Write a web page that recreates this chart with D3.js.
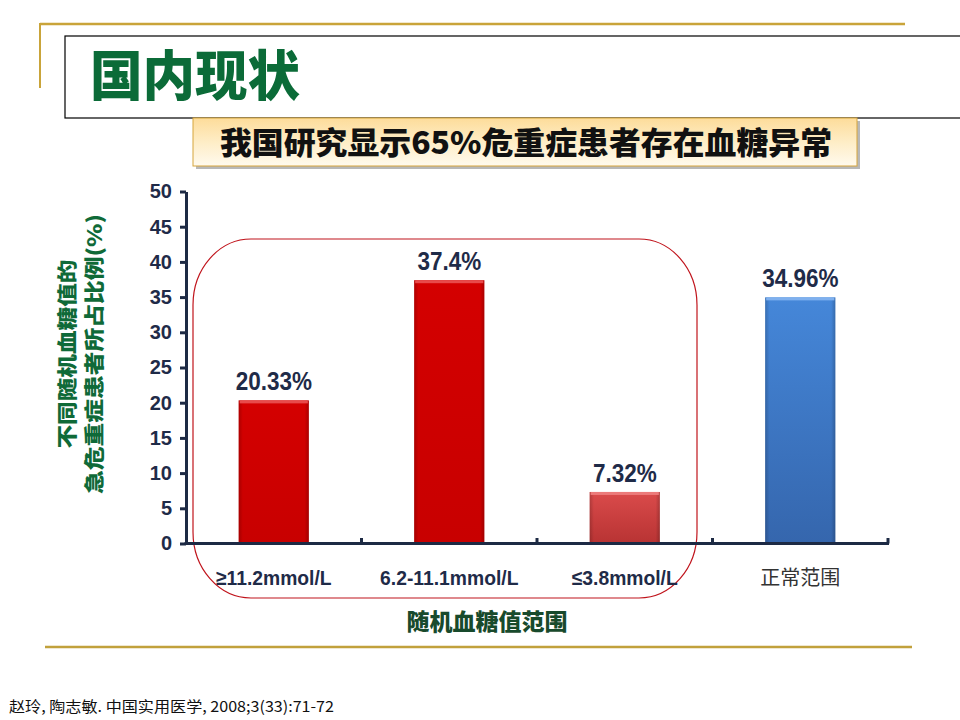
<!DOCTYPE html>
<html>
<head>
<meta charset="utf-8">
<script src="https://cdn.jsdelivr.net/npm/d3@7"></script>
<style>
  body { margin: 0; background: #fff; }
  text { font-family: "Liberation Sans", Arial, "Noto Sans CJK SC", sans-serif; }
  .cjk { font-family: "Noto Sans CJK SC", "Liberation Sans", sans-serif; }
</style>
</head>
<body>
<script>
const categories = ["≥11.2mmol/L", "6.2-11.1mmol/L", "≤3.8mmol/L", "正常范围"];
const values = [20.33, 37.4, 7.32, 34.96];
const valueLabels = ["20.33%", "37.4%", "7.32%", "34.96%"];
const yTicks = [0, 5, 10, 15, 20, 25, 30, 35, 40, 45, 50];

const width = 960, height = 720;
const navy = "#1d2a44";

const svg = d3.select("body").append("svg")
  .attr("width", width)
  .attr("height", height);

const defs = svg.append("defs");
function vGrad(id, stops) {
  const g = defs.append("linearGradient").attr("id", id)
    .attr("x1", 0).attr("y1", 0).attr("x2", 0).attr("y2", 1);
  stops.forEach(s => g.append("stop").attr("offset", s[0]).attr("stop-color", s[1]));
}
vGrad("boxGrad", [[0, "#fddc9a"], [0.5, "#feedc6"], [1, "#fffaee"]]);
vGrad("red", [[0, "#d40000"], [1, "#c80000"]]);
vGrad("paleRed", [[0, "#da4b4b"], [1, "#b83333"]]);
vGrad("blue", [[0, "#4587d9"], [1, "#3566ad"]]);
const side = defs.append("linearGradient").attr("id", "side")
  .attr("x1", 0).attr("y1", 0).attr("x2", 1).attr("y2", 0);
[[0, "#000", 0.18], [0.06, "#000", 0], [0.94, "#000", 0], [1, "#000", 0.2]]
  .forEach(s => side.append("stop").attr("offset", s[0]).attr("stop-color", s[1]).attr("stop-opacity", s[2]));

// slide frame
svg.append("line").attr("x1", 40).attr("x2", 905).attr("y1", 24).attr("y2", 24)
  .attr("stroke", "#c9a43a").attr("stroke-width", 2.5);
svg.append("line").attr("x1", 40).attr("x2", 40).attr("y1", 23).attr("y2", 88)
  .attr("stroke", "#c9a43a").attr("stroke-width", 2);
svg.append("rect").attr("x", 65).attr("y", 36).attr("width", 920).attr("height", 82)
  .attr("fill", "#fff").attr("stroke", "#000").attr("stroke-width", 1.2);
svg.append("text").attr("class", "cjk")
  .attr("x", 90).attr("y", 96)
  .attr("font-size", 54).attr("font-weight", 900).attr("fill", "#0b6b38")
  .attr("textLength", 210).attr("lengthAdjust", "spacingAndGlyphs")
  .text("国内现状");

// subtitle box
svg.append("rect").attr("x", 196).attr("y", 121).attr("width", 664).attr("height", 48)
  .attr("fill", "#b8b8b8");
svg.append("rect").attr("x", 193).attr("y", 118).attr("width", 664).attr("height", 48)
  .attr("fill", "url(#boxGrad)").attr("stroke", "#d6a53c").attr("stroke-width", 1);
svg.append("text").attr("class", "cjk")
  .attr("x", 526).attr("y", 154).attr("text-anchor", "middle")
  .attr("font-size", 31).attr("font-weight", 900).attr("fill", "#111")
  .attr("textLength", 612).attr("lengthAdjust", "spacingAndGlyphs")
  .text("我国研究显示65%危重症患者存在血糖异常");

// chart
const x = d3.scaleBand().domain(categories).range([186, 888])
  .paddingInner(0.6).paddingOuter(0.3);
const y = d3.scaleLinear().domain([0, 50]).range([543.5, 191.5]);

// highlight frame around the abnormal groups
svg.append("rect").attr("x", 193).attr("y", 239).attr("width", 504).attr("height", 359)
  .attr("rx", 58).attr("ry", 66)
  .attr("fill", "none").attr("stroke", "#c0141c").attr("stroke-width", 1.2);

const fills = ["url(#red)", "url(#red)", "url(#paleRed)", "url(#blue)"];
const tops = ["#e84a4a", "#e84a4a", "#ec7a7a", "#7fb0ee"];
const data = categories.map((c, i) => ({ c, v: values[i], label: valueLabels[i], i }));

const bars = svg.append("g").selectAll("g").data(data).enter().append("g");
bars.append("rect")
  .attr("x", d => x(d.c)).attr("y", d => y(d.v))
  .attr("width", x.bandwidth()).attr("height", d => y(0) - y(d.v))
  .attr("fill", d => fills[d.i]);
bars.append("rect")
  .attr("x", d => x(d.c)).attr("y", d => y(d.v))
  .attr("width", x.bandwidth()).attr("height", d => y(0) - y(d.v))
  .attr("fill", "url(#side)");
bars.append("rect")
  .attr("x", d => x(d.c) + 1).attr("y", d => y(d.v))
  .attr("width", x.bandwidth() - 2).attr("height", 3)
  .attr("fill", d => tops[d.i]);
bars.append("text")
  .attr("transform", d => `translate(${x(d.c) + x.bandwidth() / 2},${y(d.v) - 10}) scale(0.9,1)`)
  .attr("text-anchor", "middle")
  .attr("font-size", 25).attr("font-weight", "bold").attr("fill", "#1f2b48")
  .text(d => d.label);

// y axis
const yAxis = svg.append("g").attr("transform", "translate(186,0)")
  .call(d3.axisLeft(y).tickValues(yTicks).tickSize(6).tickSizeOuter(0).tickPadding(8));
yAxis.select(".domain").attr("stroke", navy).attr("stroke-width", 3);
yAxis.selectAll(".tick line").attr("stroke", navy).attr("stroke-width", 3);
yAxis.selectAll(".tick text")
  .attr("font-size", 20).attr("font-weight", "bold").attr("fill", "#1f2b48")
  .attr("font-family", "Liberation Sans, Arial, sans-serif");

// x axis: boundary ticks point upward
const boundaries = categories.map(c => x(c) + x.bandwidth() / 2 + x.step() / 2);
svg.append("line").attr("x1", 184.5).attr("x2", 889).attr("y1", 543.5).attr("y2", 543.5)
  .attr("stroke", navy).attr("stroke-width", 3);
svg.append("g").selectAll("line").data(boundaries).enter().append("line")
  .attr("x1", d => d).attr("x2", d => d).attr("y1", 543.5).attr("y2", 538)
  .attr("stroke", navy).attr("stroke-width", 3);

svg.append("g").selectAll("text").data(categories).enter().append("text")
  .attr("class", (d, i) => i === 3 ? "cjk" : null)
  .attr("transform", (d, i) => `translate(${x(d) + x.bandwidth() / 2},585)` + (i === 3 ? "" : " scale(0.92,1)"))
  .attr("text-anchor", "middle")
  .attr("font-size", (d, i) => i === 3 ? 20 : 21)
  .attr("font-weight", (d, i) => i === 3 ? 400 : "bold")
  .attr("fill", (d, i) => i === 3 ? "#333" : "#1f2b48")
  .text(d => d);

// axis titles
svg.append("text").attr("class", "cjk")
  .attr("x", 487).attr("y", 630).attr("text-anchor", "middle")
  .attr("font-size", 23).attr("font-weight", 900).attr("fill", "#184a2c")
  .text("随机血糖值范围");

const yTitle = svg.append("g").attr("transform", "translate(0,354) rotate(-90)");
yTitle.append("text").attr("class", "cjk")
  .attr("x", 0).attr("y", 75).attr("text-anchor", "middle")
  .attr("font-size", 20).attr("font-weight", 900).attr("fill", "#0f6a38")
  .attr("textLength", 189).attr("lengthAdjust", "spacingAndGlyphs")
  .text("不同随机血糖值的");
yTitle.append("text").attr("class", "cjk")
  .attr("x", 0).attr("y", 102).attr("text-anchor", "middle")
  .attr("font-size", 20).attr("font-weight", 900).attr("fill", "#0f6a38")
  .attr("textLength", 280).attr("lengthAdjust", "spacingAndGlyphs")
  .text("急危重症患者所占比例(%)");

// bottom rule and source
svg.append("line").attr("x1", 45).attr("x2", 912).attr("y1", 647).attr("y2", 647)
  .attr("stroke", "#c1a13c").attr("stroke-width", 2.5);
svg.append("text").attr("class", "cjk")
  .attr("x", 9).attr("y", 712)
  .attr("font-size", 15).attr("fill", "#111")
  .attr("textLength", 325).attr("lengthAdjust", "spacingAndGlyphs")
  .text("赵玲, 陶志敏. 中国实用医学, 2008;3(33):71-72");
</script>
</body>
</html>
